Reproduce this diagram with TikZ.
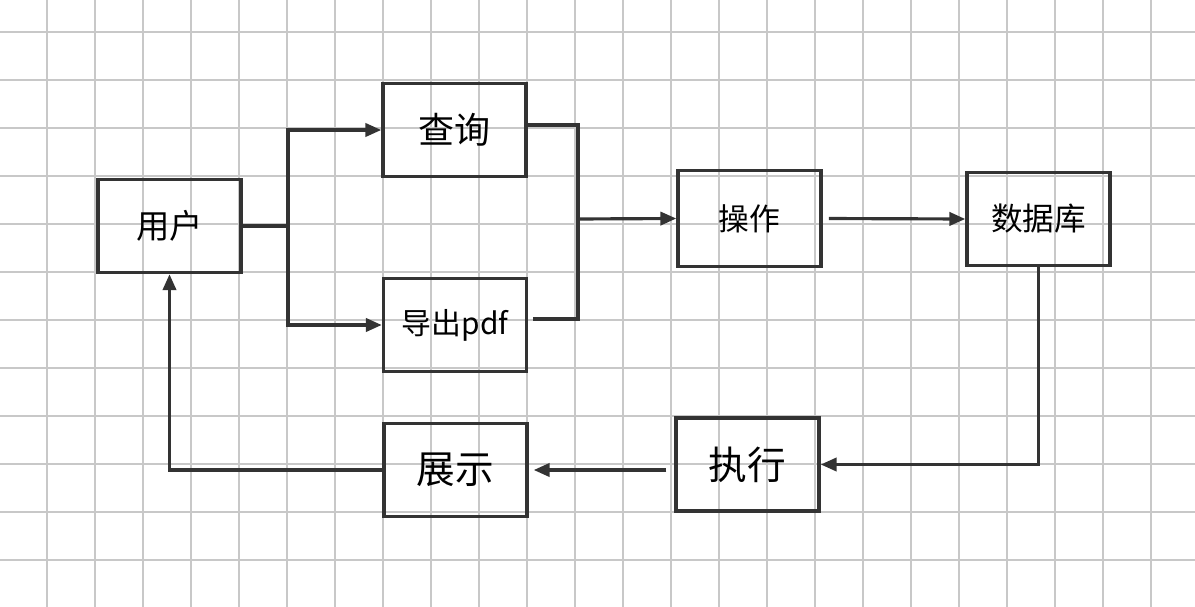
\documentclass[tikz,border=0pt]{standalone}
\usepackage{fontspec}
\setmainfont{Noto Sans CJK SC}
\usetikzlibrary{arrows.meta, calc}
\definecolor{gridgray}{RGB}{200,200,200}
\definecolor{ink}{RGB}{51,51,51}

\begin{document}
\begin{tikzpicture}[
        x=0.02cm, y=-0.02cm,
        box/.style={draw=ink, line width=2pt, minimum width=2.86cm, minimum height=1.86cm, inner sep=0pt},
        fs/.style={font=\fontsize{#1}{#1}\selectfont},
        link/.style={draw=ink, line width=1.8pt},
        arr/.style={link, -{Triangle[length=9pt, width=7.5pt]}}
    ]
    \useasboundingbox (0,0) rectangle (1195,607);
    % grid
    \foreach \gx in {47,95,...,1151}
        \draw[gridgray, line width=0.8pt] (\gx,0) -- (\gx,607);
    \foreach \gy in {32,80,...,560}
        \draw[gridgray, line width=0.8pt] (0,\gy) -- (1195,\gy);

    \node[box, fs=19pt] (user) at (169.5,226) {用户};
    \node[box, fs=20.5pt] (query) at (454.5,130) {查询};
    \node[box, fs=17pt] (export) at (455,325) {导出pdf};
    \node[box, fs=17.5pt, minimum height=1.92cm] (op) at (749.5,218.5) {操作};
    \node[box, fs=18pt] (db) at (1038.5,219) {数据库};
    \node[box, fs=22pt] (exec) at (747.5,464.5) {执行};
    \node[box, fs=22pt] (show) at (455.5,470) {展示};

    \coordinate (jl) at (288,226);
    \coordinate (jr) at (578,219);

    \draw[link] (user.east) -- (jl);
    \draw[arr] (jl) |- (query.west);
    \draw[arr] (jl) |- (export.west);
    \draw[link] ([yshift=1mm]query.east) -| (jr);
    \draw[link, shorten >=1mm] (jr) |- ([yshift=1.2mm]export.east);
    \draw[arr] (jr) -- (op.west);
    \draw[arr, shorten <=1.2mm] (op.east) -- (db.west);
    \draw[arr] (db.south) |- (exec.east);
    \draw[arr, shorten <=1.6mm, shorten >=1mm] (exec.west |- show.east) -- (show.east);
    \draw[arr] (show.west) -| (user.south);
\end{tikzpicture}
\end{document}
